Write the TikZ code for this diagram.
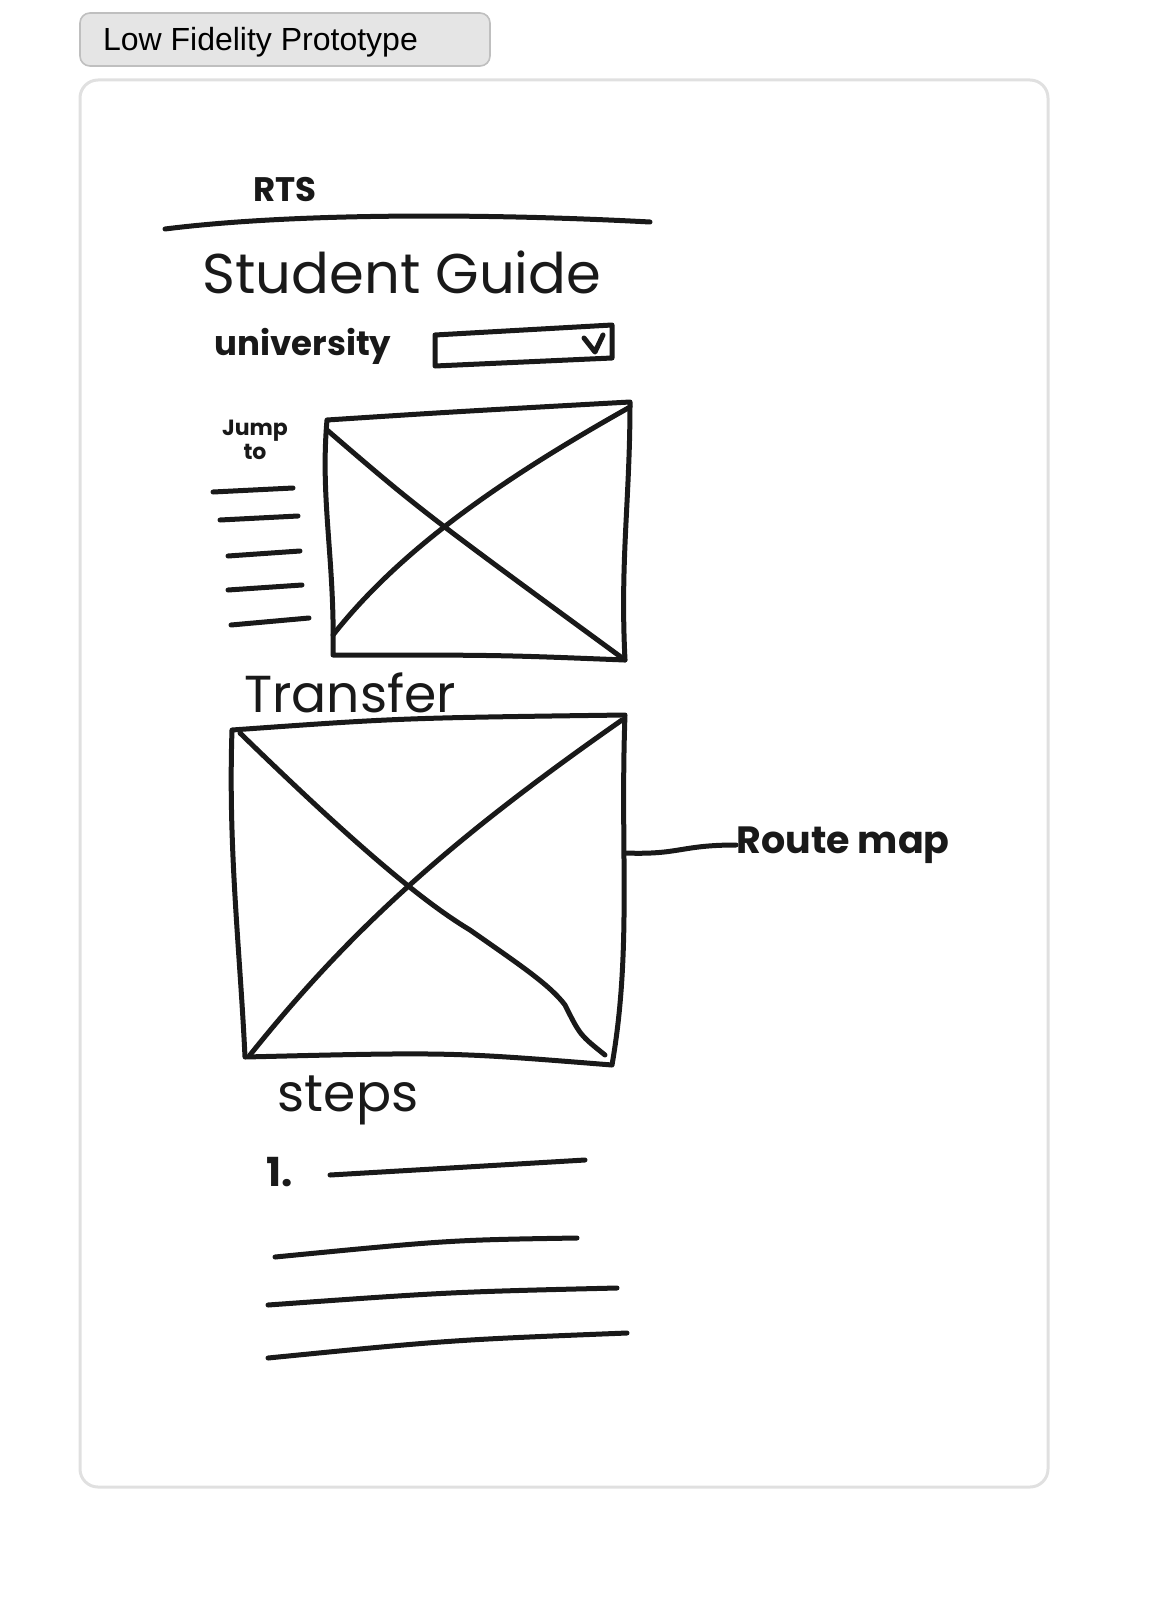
\documentclass[tikz,border=0pt]{standalone}
\usepackage{fontspec}
\setmainfont{Liberation Sans}
\newfontfamily\hand{Poppins}
\begin{document}
\begin{tikzpicture}[x=0.5pt,y=-0.5pt,
  ink/.style={draw=black!90,line width=2.5pt,line cap=round,line join=round},
  htext/.style={font=\hand, text=black!90, inner sep=0pt}]
\useasboundingbox (0,0) rectangle (1152,1600);
\draw[rounded corners=5pt,fill=black!10,draw=black!25,line width=0.8pt] (80,13) rectangle (490,66);
\node[font=\fontsize{16}{18}\selectfont,anchor=west] (btn) at (96,42) {Low Fidelity Prototype};
\draw[rounded corners=9pt,draw=black!12,line width=1.5pt] (80,80) rectangle (1048,1487);
% header
\node[htext,font=\hand\bfseries\fontsize{17}{18}\selectfont] (rts) at (285,190) {RTS};
\draw[ink] (165,229) .. controls (300,212) and (500,214) .. (650,222);
\node[htext,font=\hand\fontsize{28}{30}\selectfont] (title) at (402,272) {Student Guide};
\node[htext,font=\hand\bfseries\fontsize{17}{18}\selectfont] (uni) at (303,346) {university};
\draw[ink] (435,335) -- (435,366) -- (612,358) -- (612,325) -- (435,335);
\draw[ink] (584,338) -- (595,352) -- (603,335);
% box 1
\node[htext,font=\hand\bfseries\fontsize{11}{12}\selectfont,align=center] (jump) at (255,440) {Jump\\to};
\draw[ink] (327,420) .. controls (450,412) .. (630,402) .. controls (630,500) and (620,560) .. (625,660)
  .. controls (500,655) .. (333,655) .. controls (335,560) and (320,500) .. (327,420);
\draw[ink] (327,430) .. controls (420,510) .. (625,660);
\draw[ink] (333,635) .. controls (400,550) and (500,480) .. (630,407);
\foreach \a/\b/\c/\d in {213/492/293/488,220/520/298/516,228/556/300/551,228/590/302/585,231/625/309/618}
  \draw[ink] (\a,\b) -- (\c,\d);
% box 2
\node[htext,font=\hand\fontsize{26}{28}\selectfont] (transfer) at (350,693) {Transfer};
\draw[ink] (232,730) .. controls (400,718) .. (625,715) .. controls (620,850) and (632,950) .. (612,1065)
  .. controls (450,1052) .. (245,1057) .. controls (240,950) and (228,850) .. (232,730);
\draw[ink] (240,733) .. controls (350,840) and (420,900) .. (470,930) .. controls (520,965) and (550,985) .. (565,1005) .. controls (580,1035) .. (605,1055);
\draw[ink] (250,1055) .. controls (350,930) and (450,840) .. (622,720);
\coordinate (b2e) at (625,853);
\node[htext,font=\hand\bfseries\fontsize{19}{20}\selectfont,anchor=west] (route) at (736,845) {Route map};
\draw[ink] (b2e) .. controls (680,855) and (680,845) .. (route.west);
% steps
\node[htext,font=\hand\fontsize{26}{28}\selectfont] (steps) at (348,1100) {steps};
\node[htext,font=\hand\bfseries\fontsize{20}{22}\selectfont] (one) at (280,1172) {1.};
\draw[ink] (330,1175) .. controls (450,1168) .. (585,1160);
\draw[ink] (275,1257) .. controls (450,1240) .. (577,1238);
\draw[ink] (268,1305) .. controls (450,1292) .. (617,1288);
\draw[ink] (268,1358) .. controls (450,1340) .. (627,1333);
\end{tikzpicture}
\end{document}
